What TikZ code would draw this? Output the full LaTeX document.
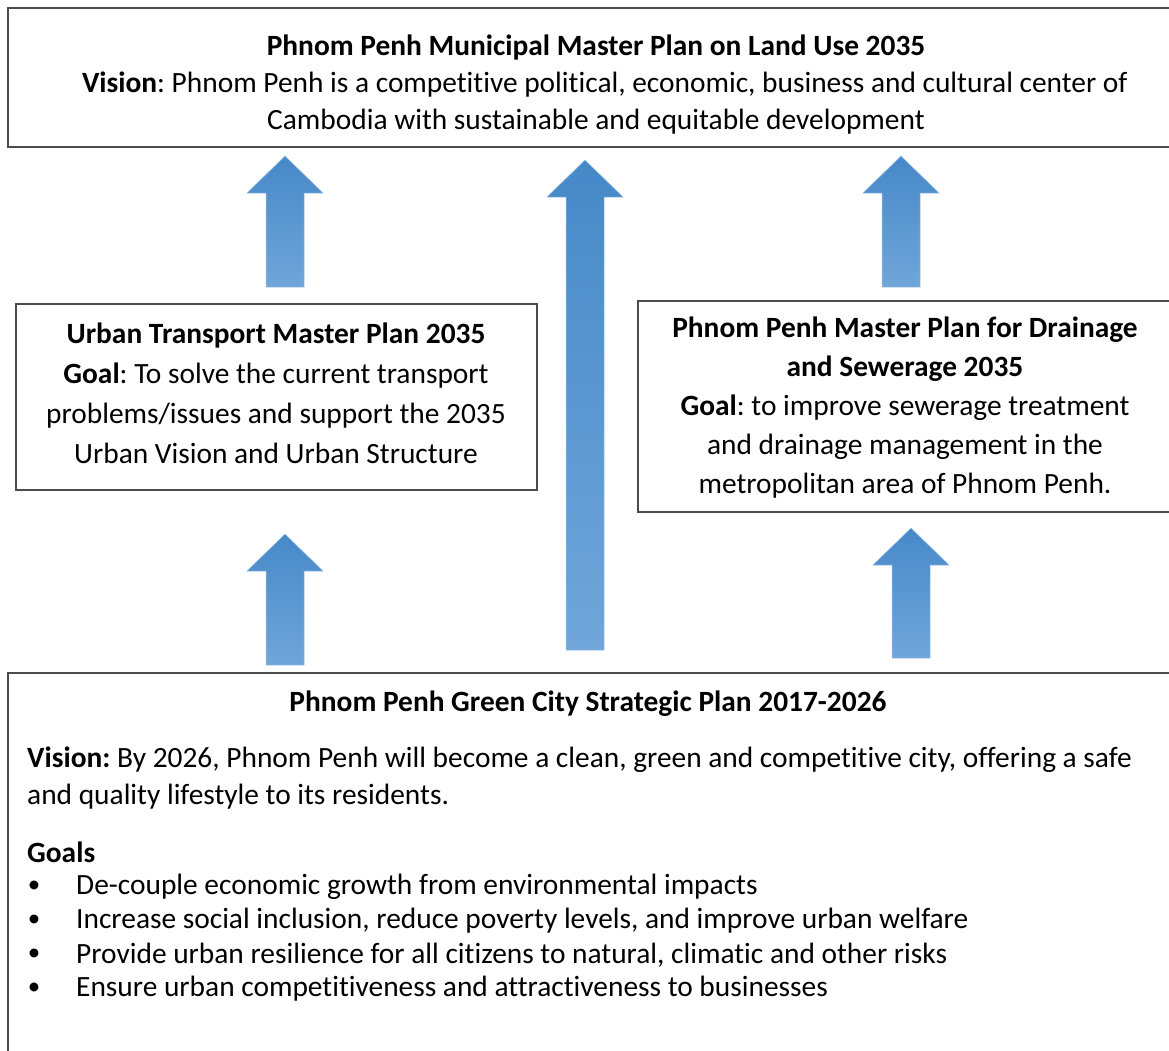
\documentclass[tikz,border=0pt]{standalone}
\usepackage{fontspec}
\setmainfont{Carlito}[Ligatures=NoCommon]
\frenchspacing
\definecolor{arrowtop}{RGB}{70,137,200}
\definecolor{arrowmid}{RGB}{84,154,218}
\definecolor{arrowbot}{RGB}{112,166,218}
\tikzset{
  box/.style={draw=black!70,line width=1.3pt},
  upshade/.style={top color=arrowtop,middle color=arrowmid,bottom color=arrowbot,draw=arrowbot!70!white,line width=0.5pt},
  txt/.style={inner sep=0pt,font=\fontsize{29.4}{37}\selectfont},
}
% block arrow: centre x, tip y, bottom y
\newcommand{\blockup}[3]{%
  \draw[upshade] (#1-19,#3) -- (#1-19,#2+37) -- (#1-38,#2+37) -- (#1,#2)
    -- (#1+38,#2+37) -- (#1+19,#2+37) -- (#1+19,#3) -- cycle;}
\begin{document}
\begin{tikzpicture}[x=1pt,y=-1pt]
 \clip (0,0) rectangle (1169,1050);
 % boxes
 \draw[box] (8,8) rectangle (1200,147);
 \draw[box] (16,304) rectangle (537,490);
 \draw[box] (638,301) rectangle (1200,512);
 \draw[box] (8,673) rectangle (1200,1100);
 % arrows
 \blockup{285}{156}{287}
 \blockup{585}{160}{650}
 \blockup{901}{156}{287}
 \blockup{285}{534}{665}
 \blockup{911}{528}{658}
 % top box
 \node[txt,align=center] (landuse) at (596,85)
  {\textbf{Phnom Penh Municipal Master Plan on Land Use 2035}\\
   \hspace*{0.6em}\textbf{Vision}: Phnom Penh is a competitive political, economic, business and cultural center of\\
   Cambodia with sustainable and equitable development};
 % middle boxes
 \node[txt,align=center,font=\fontsize{29.4}{40}\selectfont] (transport) at (276,393)
  {\textbf{Urban Transport Master Plan 2035}\\
   \textbf{Goal}: To solve the current transport\\
   problems/issues and support the 2035\\
   Urban Vision and Urban Structure};
 \node[txt,align=center,font=\fontsize{29.4}{39}\selectfont] (drainage) at (905,408)
  {\textbf{Phnom Penh Master Plan for Drainage}\\
   \textbf{and Sewerage 2035}\\
   \textbf{Goal}: to improve sewerage treatment\\
   and drainage management in the\\
   metropolitan area of Phnom Penh.};
 % bottom box
 \node[txt] (green) at (588,704) {\textbf{Phnom Penh Green City Strategic Plan 2017-2026}};
 \node[txt,anchor=west] (vis1) at (27,760) {\textbf{Vision:} By 2026, Phnom Penh will become a clean, green and competitive city, offering a safe};
 \node[txt,anchor=west] (vis2) at (27,797) {and quality lifestyle to its residents.};
 \node[txt,anchor=west] (goals) at (27,852) {\textbf{Goals}};
 \foreach \t [count=\i] in {De-couple economic growth from environmental impacts,
   {Increase social inclusion, reduce poverty levels, and improve urban welfare},
   {Provide urban resilience for all citizens to natural, climatic and other risks},
   Ensure urban competitiveness and attractiveness to businesses}{
  \node[txt,font=\fontsize{25}{25}\selectfont] (dot\i) at (34,853+34*\i) {\textbullet};
  \node[txt,anchor=west] (goal\i) at (76,853+34*\i) {\t};
 }
\end{tikzpicture}
\end{document}
